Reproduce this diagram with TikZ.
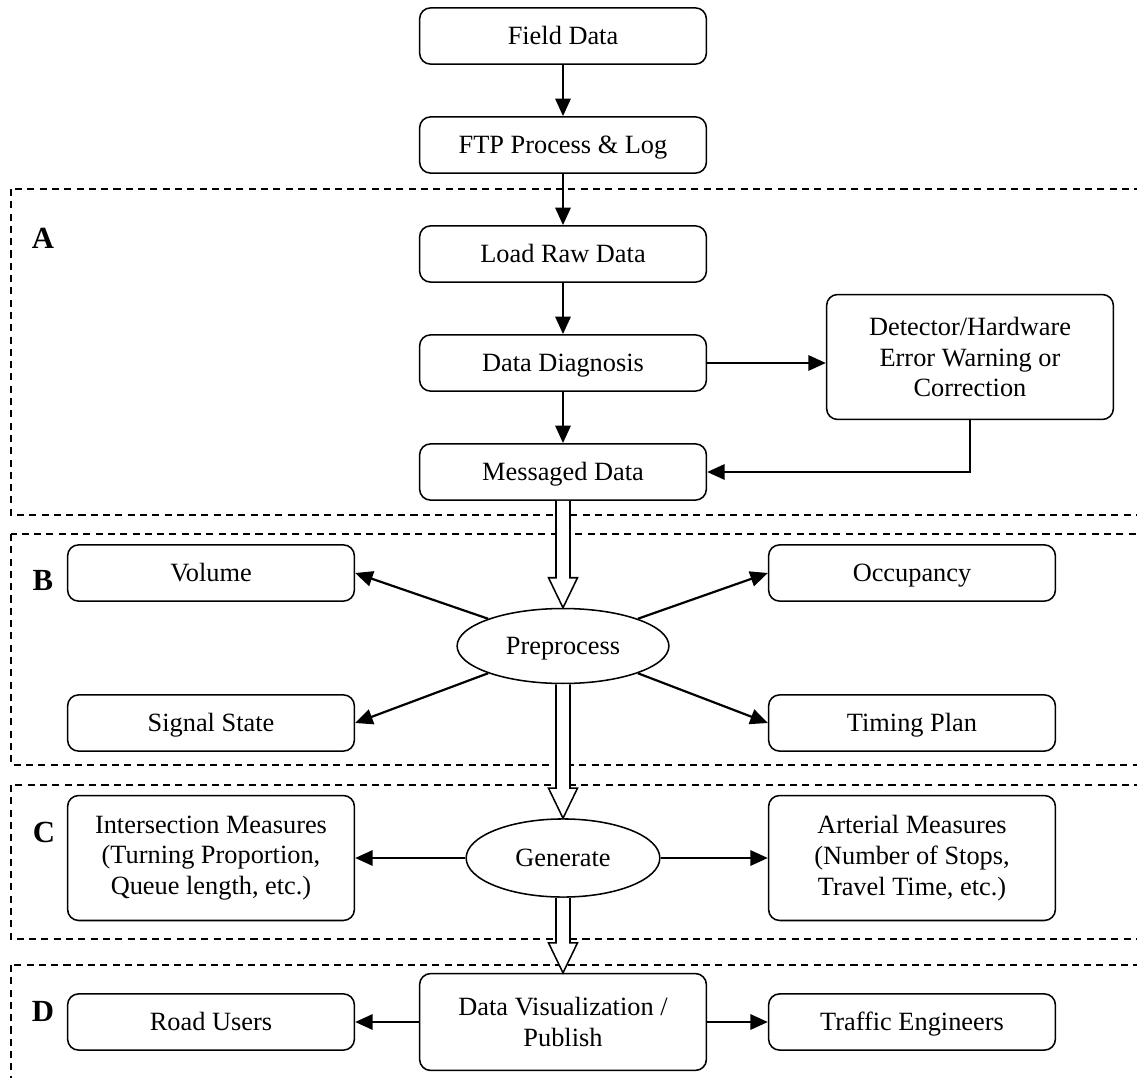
\documentclass[tikz,border=0pt]{standalone}
\usepackage{fontspec}
\setmainfont{Liberation Serif}
\usepackage{tikz}
\usetikzlibrary{shapes.geometric, arrows.meta, positioning, calc}

% hollow block arrow from the bottom of one node to the top of another
\newcommand{\hollowarrow}[2]{%
  \draw[hollow] ($(#1.south)+(-0.112cm,0)$) -- ($(#2.north)+(-0.112cm,0.48cm)$)
    -- ($(#2.north)+(-0.232cm,0.48cm)$) -- (#2.north)
    -- ($(#2.north)+(0.232cm,0.48cm)$) -- ($(#2.north)+(0.112cm,0.48cm)$)
    -- ($(#1.south)+(0.112cm,0)$);}

\begin{document}
\begin{tikzpicture}[
    x=0.016cm, y=-0.016cm,
    font=\fontsize{12}{14}\selectfont,
    box/.style={rectangle, rounded corners=5pt, draw, line width=0.7pt, minimum width=4.59cm, minimum height=0.9cm, inner sep=2pt, align=center, text height=7.9pt, text depth=0pt},
    bigbox/.style={box, minimum height=2.0cm, text height=, text depth=},
    oval/.style={ellipse, draw, line width=0.7pt, inner sep=0pt, minimum height=1.2cm, text height=7.9pt, text depth=0pt},
    tag/.style={font=\bfseries\fontsize{14}{16}\selectfont},
    frame/.style={draw, dashed, dash pattern=on 3.2pt off 2.4pt, line width=0.55pt},
    arrow/.style={line width=1pt, -{Triangle[length=8pt, width=7pt]}},
    hollow/.style={draw, fill=white, line width=0.7pt, line join=miter}
]

\path[use as bounding box, clip] (0,0) rectangle (1137,1078);

% Dashed frames (open to the right)
\path[frame] (11,189) rectangle (1160,515);
\path[frame] (11,534) rectangle (1160,765);
\path[frame] (11,785) rectangle (1160,939);
\path[frame] (11,965) rectangle (1160,1100);

\node[tag] (tagA) at (43,238) {A};
\node[tag] (tagB) at (43,580) {B};
\node[tag] (tagC) at (44,832) {C};
\node[tag] (tagD) at (43,1011) {D};

% Main column
\node[box] (field) at (563,36) {Field Data};
\node[box, below=0.82cm of field] (ftp) {FTP Process \& Log};
\node[box, below=0.82cm of ftp] (loadraw) {Load Raw Data};
\node[box, below=0.82cm of loadraw] (diagnosis) {Data Diagnosis};
\node[box, below=0.82cm of diagnosis] (messaged) {Messaged Data};
\node[bigbox] (detector) at (970,357) {Detector/Hardware\\Error Warning or\\Correction};

% Preprocess
\node[oval, minimum width=3.39cm] (preprocess) at (563,646) {Preprocess};
\node[box] (volume) at (211,573) {Volume};
\node[box] (occupancy) at (912,573) {Occupancy};
\node[box] (signal) at (211,723) {Signal State};
\node[box] (timing) at (912,723) {Timing Plan};

% Generate
\node[oval, minimum width=3.1cm, minimum height=1.25cm] (generate) at (563,858) {Generate};
\node[bigbox] (intersection) at (211,858) {Intersection Measures\\(Turning Proportion,\\Queue length, etc.)};
\node[bigbox] (arterial) at (912,858) {Arterial Measures\\(Number of Stops,\\Travel Time, etc.)};

% Publish
\node[box, minimum height=1.55cm, text height=, text depth=] (publish) at (563,1022) {Data Visualization /\\Publish};
\node[box] (roadusers) at (211,1022) {Road Users};
\node[box] (engineers) at (912,1022) {Traffic Engineers};

% Connectors
\draw[arrow] (field) -- (ftp);
\draw[arrow] (ftp) -- (loadraw);
\draw[arrow] (loadraw) -- (diagnosis);
\draw[arrow] (diagnosis) -- (messaged);
\draw[arrow] (diagnosis.east) -- (diagnosis.east -| detector.west);
\draw[arrow] (detector.south) |- (messaged.east);

\draw[arrow] (preprocess.160) -- (volume.east);
\draw[arrow] (preprocess.20) -- (occupancy.west);
\draw[arrow] (preprocess.200) -- (signal.east);
\draw[arrow] (preprocess.-20) -- (timing.west);

\draw[arrow] (generate.west) -- (generate.west -| intersection.east);
\draw[arrow] (generate.east) -- (generate.east -| arterial.west);

\draw[arrow] (publish.west) -- (publish.west -| roadusers.east);
\draw[arrow] (publish.east) -- (publish.east -| engineers.west);

% Block arrows between stages
\hollowarrow{messaged}{preprocess}
\hollowarrow{preprocess}{generate}
\hollowarrow{generate}{publish}

\end{tikzpicture}
\end{document}
